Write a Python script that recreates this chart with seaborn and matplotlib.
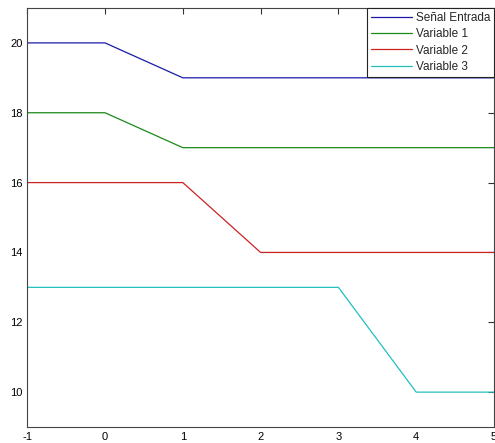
import seaborn as sns
import matplotlib.pyplot as plt
import pandas as pd

# data
x = [-1, 0, 1, 2, 3, 4, 5]
senal = [20, 20, 19, 19, 19, 19, 19]
var1 = [18, 18, 17, 17, 17, 17, 17]
var2 = [16, 16, 16, 14, 14, 14, 14]
var3 = [13, 13, 13, 13, 13, 10, 10]
names = ["Señal Entrada", "Variable 1", "Variable 2", "Variable 3"]
colors = ["#1a1aa8", "#1a8a1a", "#cc2222", "#22bfbf"]

rows = []
for name, vals in zip(names, [senal, var1, var2, var3]):
    for xi, yi in zip(x, vals):
        rows.append({"t": xi, "valor": yi, "serie": name})
df = pd.DataFrame(rows)

sns.set_theme(style="white")
plt.rcParams["font.family"] = ["Liberation Sans", "DejaVu Sans"]
plt.rcParams["axes.unicode_minus"] = False

fig = plt.figure(figsize=(4.95, 4.43), dpi=100)
ax = fig.add_axes([0.055, 0.036, 0.943, 0.946])

sns.lineplot(data=df, x="t", y="valor", hue="serie", palette=colors,
             linewidth=0.9, ax=ax)

ax.set_xlim(-1, 5)
ax.set_ylim(9, 21)
ax.set_xticks(range(-1, 6))
ax.set_yticks(range(10, 21, 2))
ax.set_xlabel("")
ax.set_ylabel("")
ax.tick_params(direction="in", length=4, width=0.8, labelsize=8,
               top=True, right=True, colors="#333333", labelcolor="black")
for s in ax.spines.values():
    s.set_color("#444444")
    s.set_linewidth(0.8)

leg = ax.legend(loc="upper right", fontsize=8.5, frameon=True, fancybox=False,
                framealpha=1, borderaxespad=0.0, handlelength=3.5,
                handletextpad=0.3, labelspacing=0.36, borderpad=0.35)
leg.get_frame().set_edgecolor("#222222")
leg.get_frame().set_linewidth(0.8)

fig.savefig("out.png", dpi=100)
